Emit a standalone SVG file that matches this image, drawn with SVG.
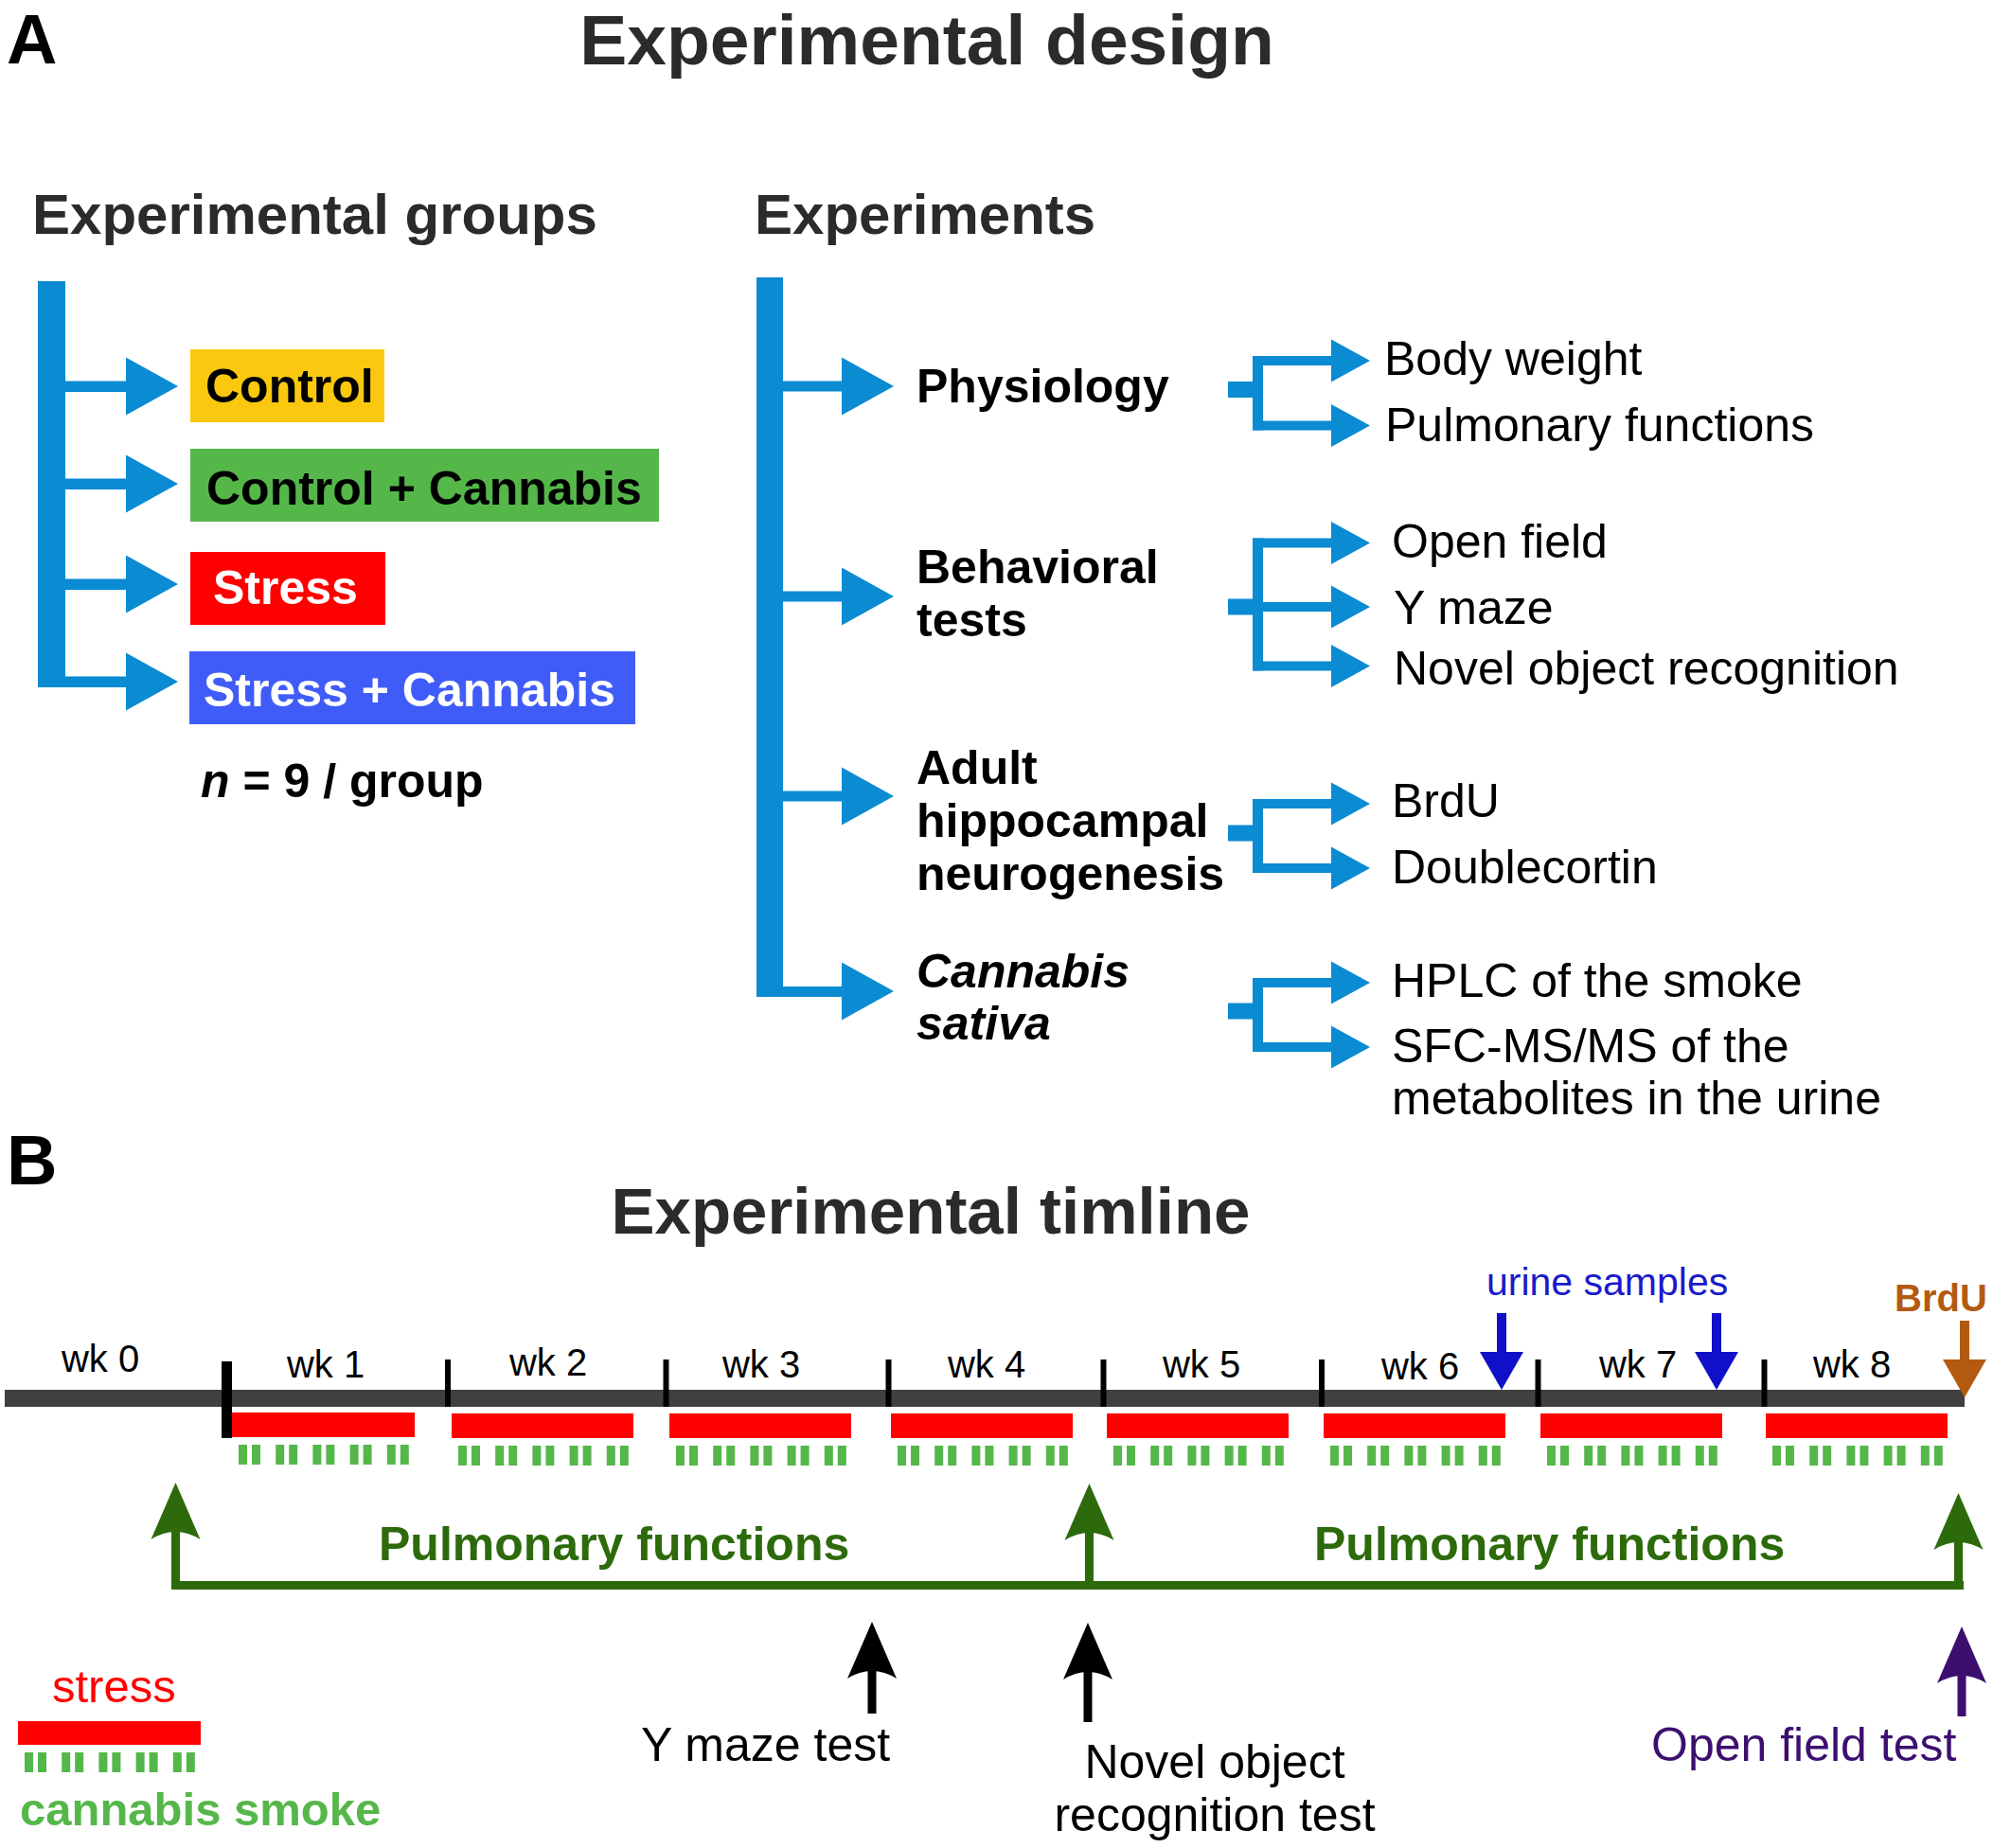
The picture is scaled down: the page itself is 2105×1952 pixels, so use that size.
<svg xmlns="http://www.w3.org/2000/svg" width="2105" height="1952" viewBox="0 0 2105 1952">
<style>
text{font-family:"Liberation Sans",Arial,Helvetica,sans-serif}
.ttl{font-weight:bold;fill:#2b2b2b}
.lbl{font-weight:bold;font-size:74px;fill:#000}
.b50{font-weight:bold;font-size:50px;fill:#000}
.r50{font-size:50px;fill:#000}
.wk{font-size:40px;fill:#000;text-anchor:middle}
.blue{fill:#0A8BD2}
.red{fill:#FF0000}
.grn{fill:#55B74A}
.dg{fill:#2D6A0B}
</style>
<defs>
<path id="bigTri" d="M0,-30.5 L55,0 L0,30.5 Z"/>
<path id="smTri" d="M0,-22.5 L41,0 L0,22.5 Z"/>
<path id="upHead" d="M0,0 L26,60 Q0,44 -26,60 Z"/>
<path id="downTri" d="M-23,0 L23,0 L0,40 Z"/>
<g id="dashes">
<rect x="0" y="0" width="9" height="21"/><rect x="14" y="0" width="9" height="21"/>
<rect x="39.2" y="0" width="9" height="21"/><rect x="53.2" y="0" width="9" height="21"/>
<rect x="78.4" y="0" width="9" height="21"/><rect x="92.4" y="0" width="9" height="21"/>
<rect x="117.6" y="0" width="9" height="21"/><rect x="131.6" y="0" width="9" height="21"/>
<rect x="156.8" y="0" width="9" height="21"/><rect x="170.8" y="0" width="9" height="21"/>
</g>
</defs>
<rect width="2105" height="1952" fill="#fff"/>

<!-- Panel A -->
<text id="labelA" class="lbl" x="7" y="67">A</text>
<text id="titleA" class="ttl" x="979" y="68" font-size="75" text-anchor="middle">Experimental design</text>
<text id="hdrGroups" class="ttl" x="34" y="247" font-size="60">Experimental groups</text>
<text id="hdrExperiments" class="ttl" x="797" y="247" font-size="60">Experiments</text>

<g id="connectors">
<g class="blue">
<rect x="40" y="297" width="29" height="429"/>
<rect x="69" y="402.5" width="64" height="11.5"/>
<rect x="69" y="505.5" width="64" height="11.5"/>
<rect x="69" y="611.5" width="64" height="11.5"/>
<rect x="69" y="714.5" width="64" height="11.5"/>
<use href="#bigTri" x="133" y="408"/>
<use href="#bigTri" x="133" y="511"/>
<use href="#bigTri" x="133" y="617"/>
<use href="#bigTri" x="133" y="720"/>
<rect x="799" y="293" width="28" height="760"/>
<rect x="827" y="402.5" width="62" height="11"/>
<rect x="827" y="624.5" width="62" height="11"/>
<rect x="827" y="835.5" width="62" height="11"/>
<rect x="827" y="1042" width="62" height="11"/>
<use href="#bigTri" x="889" y="408"/>
<use href="#bigTri" x="889" y="630"/>
<use href="#bigTri" x="889" y="841"/>
<use href="#bigTri" x="889" y="1047"/>
<rect x="1297" y="403" width="26" height="17"/>
<rect x="1323" y="376" width="11" height="78.5"/>
<rect x="1323" y="376" width="83" height="10"/>
<rect x="1323" y="444.5" width="83" height="10"/>
<use href="#smTri" x="1406" y="381"/>
<use href="#smTri" x="1406" y="449.5"/>
<rect x="1297" y="632.5" width="26" height="17"/>
<rect x="1323" y="568.5" width="11" height="140"/>
<rect x="1323" y="568.5" width="83" height="10"/>
<rect x="1323" y="636" width="83" height="10"/>
<rect x="1323" y="698.5" width="83" height="10"/>
<use href="#smTri" x="1406" y="573.5"/>
<use href="#smTri" x="1406" y="641"/>
<use href="#smTri" x="1406" y="703.5"/>
<rect x="1297" y="871.5" width="26" height="17"/>
<rect x="1323" y="844" width="11" height="78"/>
<rect x="1323" y="844" width="83" height="10"/>
<rect x="1323" y="912" width="83" height="10"/>
<use href="#smTri" x="1406" y="849"/>
<use href="#smTri" x="1406" y="917"/>
<rect x="1297" y="1059.5" width="26" height="17"/>
<rect x="1323" y="1033" width="11" height="78"/>
<rect x="1323" y="1033" width="83" height="10"/>
<rect x="1323" y="1101" width="83" height="10"/>
<use href="#smTri" x="1406" y="1038"/>
<use href="#smTri" x="1406" y="1106"/>
</g>
</g>

<g id="group-control">
<rect x="201" y="369" width="205" height="77" fill="#F9C80F"/>
<text class="b50" x="217" y="425">Control</text>
</g>
<g id="group-control-cannabis">
<rect x="201" y="474" width="495" height="77" fill="#55B74A"/>
<text class="b50" x="218" y="533">Control + Cannabis</text>
</g>
<g id="group-stress">
<rect x="201" y="583" width="206" height="77" fill="#FF0000"/>
<text class="b50" x="225" y="638" style="fill:#fff">Stress</text>
</g>
<g id="group-stress-cannabis">
<rect x="200" y="688" width="471" height="77" fill="#405CF8"/>
<text class="b50" x="215" y="746" style="fill:#fff">Stress + Cannabis</text>
</g>
<g id="n-per-group">
<text class="b50" x="212" y="842"><tspan font-style="italic">n</tspan> = 9 / group</text>
</g>

<g id="exp-physiology">
<text class="b50" x="968" y="425">Physiology</text>
</g>
<g id="exp-behavioral">
<text class="b50" x="968" y="616">Behavioral</text>
<text class="b50" x="968" y="672">tests</text>
</g>
<g id="exp-neurogenesis">
<text class="b50" x="968" y="828">Adult</text>
<text class="b50" x="968" y="884">hippocampal</text>
<text class="b50" x="968" y="940">neurogenesis</text>
</g>
<g id="exp-cannabis">
<text class="b50" x="968" y="1043" font-style="italic">Cannabis</text>
<text class="b50" x="968" y="1098" font-style="italic">sativa</text>
</g>

<g id="sub-body-weight"><text class="r50" x="1462" y="396">Body weight</text></g>
<g id="sub-pulmonary"><text class="r50" x="1463" y="466">Pulmonary functions</text></g>
<g id="sub-open-field"><text class="r50" x="1470" y="589">Open field</text></g>
<g id="sub-y-maze"><text class="r50" x="1472" y="659">Y maze</text></g>
<g id="sub-novel-object"><text class="r50" x="1472" y="723">Novel object recognition</text></g>
<g id="sub-brdu"><text class="r50" x="1470" y="863">BrdU</text></g>
<g id="sub-doublecortin"><text class="r50" x="1470" y="933">Doublecortin</text></g>
<g id="sub-hplc"><text class="r50" x="1470" y="1053">HPLC of the smoke</text></g>
<g id="sub-sfc">
<text class="r50" x="1470" y="1122">SFC-MS/MS of the</text>
<text class="r50" x="1470" y="1177">metabolites in the urine</text>
</g>

<!-- Panel B -->
<text id="labelB" class="lbl" x="7" y="1251">B</text>
<text id="titleB" class="ttl" x="983" y="1303" font-size="69" text-anchor="middle">Experimental timline</text>

<g id="timeline">
<rect x="5" y="1468" width="2070" height="18" fill="#404040"/>
<g fill="#000">
<rect x="234" y="1438" width="11" height="81"/>
<rect x="470" y="1436" width="6" height="50"/>
<rect x="700.5" y="1436" width="6" height="50"/>
<rect x="935.5" y="1436" width="6" height="50"/>
<rect x="1162.5" y="1436" width="6" height="50"/>
<rect x="1393" y="1436" width="6" height="50"/>
<rect x="1621.5" y="1436" width="6" height="50"/>
<rect x="1860.5" y="1436" width="6" height="50"/>
</g>
<text class="wk" x="106" y="1449">wk 0</text>
<text class="wk" x="344" y="1455">wk 1</text>
<text class="wk" x="579" y="1453">wk 2</text>
<text class="wk" x="804" y="1455">wk 3</text>
<text class="wk" x="1042" y="1455">wk 4</text>
<text class="wk" x="1269" y="1455">wk 5</text>
<text class="wk" x="1500" y="1457">wk 6</text>
<text class="wk" x="1730" y="1455">wk 7</text>
<text class="wk" x="1956" y="1455">wk 8</text>
</g>

<g id="stress-bars" class="red">
<rect x="245" y="1492" width="193" height="26"/>
<rect x="477" y="1493" width="192" height="26"/>
<rect x="707" y="1493" width="192" height="26"/>
<rect x="941" y="1493" width="192" height="26"/>
<rect x="1169" y="1493" width="192" height="26"/>
<rect x="1398" y="1493" width="192" height="26"/>
<rect x="1627" y="1493" width="192" height="26"/>
<rect x="1865" y="1493" width="192" height="26"/>
</g>
<g id="smoke-dashes" class="grn">
<use href="#dashes" x="252" y="1526"/>
<use href="#dashes" x="484" y="1527"/>
<use href="#dashes" x="714" y="1527"/>
<use href="#dashes" x="948" y="1527"/>
<use href="#dashes" x="1176" y="1527"/>
<use href="#dashes" x="1405" y="1527"/>
<use href="#dashes" x="1634" y="1527"/>
<use href="#dashes" x="1872" y="1527"/>
</g>

<g id="urine-samples">
<text x="1570" y="1368" font-size="41" fill="#1A1ACC">urine samples</text>
<g fill="#1010C8">
<rect x="1581" y="1387" width="10" height="42"/>
<use href="#downTri" x="1586" y="1428"/>
<rect x="1808" y="1387" width="10" height="42"/>
<use href="#downTri" x="1813" y="1428"/>
</g>
</g>
<g id="brdu-injection">
<text x="2001" y="1385" font-size="40" font-weight="bold" fill="#B45A10">BrdU</text>
<g fill="#B45A10">
<rect x="2070" y="1395" width="10" height="41"/>
<use href="#downTri" x="2075" y="1436"/>
</g>
</g>

<g id="pulmonary-bracket" class="dg">
<rect x="181" y="1670" width="1893" height="9"/>
<rect x="181" y="1615" width="9" height="64"/>
<rect x="1146" y="1615" width="9" height="64"/>
<rect x="2064" y="1625" width="9" height="54"/>
<use href="#upHead" x="185.5" y="1566"/>
<use href="#upHead" x="1150.5" y="1567"/>
<use href="#upHead" x="2068.5" y="1577"/>
<text x="400" y="1648" font-size="50" font-weight="bold" style="fill:#2D6A0B">Pulmonary functions</text>
<text x="1388" y="1648" font-size="50" font-weight="bold" style="fill:#2D6A0B">Pulmonary functions</text>
</g>

<g id="y-maze-test">
<rect x="916.5" y="1765" width="9" height="45" fill="#000"/>
<use href="#upHead" x="921" y="1713" fill="#000"/>
<text class="r50" x="677" y="1860">Y maze test</text>
</g>
<g id="novel-object-test">
<rect x="1144.5" y="1765" width="9" height="54" fill="#000"/>
<use href="#upHead" x="1149" y="1714" fill="#000"/>
<text class="r50" x="1283" y="1878" text-anchor="middle">Novel object</text>
<text class="r50" x="1283" y="1934" text-anchor="middle">recognition test</text>
</g>
<g id="open-field-test">
<rect x="2067.5" y="1768" width="9" height="45" fill="#3C0F6F"/>
<use href="#upHead" x="2072" y="1718" fill="#3C0F6F"/>
<text x="1744" y="1860" font-size="50" fill="#3C0F6F">Open field test</text>
</g>

<g id="legend">
<text x="55" y="1798" font-size="49" fill="#FF0000">stress</text>
<rect x="19" y="1818" width="193" height="25" fill="#FF0000"/>
<use href="#dashes" x="26" y="1851" fill="#55B74A"/>
<text x="21" y="1928" font-size="49" font-weight="bold" fill="#55B74A">cannabis smoke</text>
</g>
</svg>
